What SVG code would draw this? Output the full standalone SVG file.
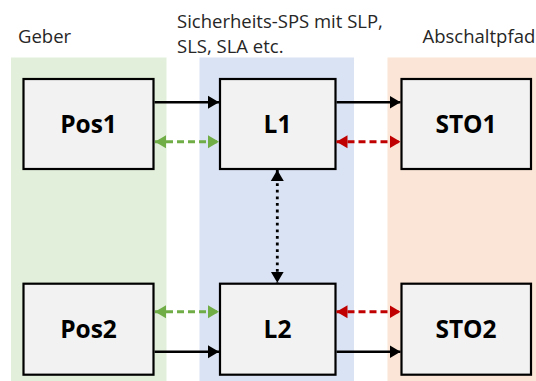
<svg xmlns="http://www.w3.org/2000/svg" width="536" height="381" viewBox="0 0 536 381">
  <style>
    .band-geber { fill: #E2EFDA; }
    .band-sps { fill: #DAE3F3; }
    .band-sto { fill: #FBE5D6; }
    .box { fill: #F2F2F2; stroke: #000000; stroke-width: 2.2; }
    .box-label { font-family: "Open Sans", "Liberation Sans", sans-serif; font-weight: bold; font-size: 24.5px; fill: #000000; text-anchor: middle; }
    .caption { font-family: "Open Sans", "Liberation Sans", sans-serif; font-size: 18.5px; fill: #262626; }
    .signal { stroke: #000000; stroke-width: 2.6; fill: none; }
    .diag-green { stroke: #70AD47; stroke-width: 3; stroke-dasharray: 7 4; fill: none; }
    .diag-red { stroke: #C00000; stroke-width: 3; stroke-dasharray: 7 4; fill: none; }
    .cross { stroke: #000000; stroke-width: 2.8; stroke-dasharray: 2.8 3.8; fill: none; }
  </style>
  <defs>
    <marker id="head-black" markerUnits="userSpaceOnUse" markerWidth="12" markerHeight="14" refX="11" refY="7" orient="auto-start-reverse">
      <path d="M0,0.5 L11,7 L0,13.5 Z" fill="#000000"/>
    </marker>
    <marker id="head-green" markerUnits="userSpaceOnUse" markerWidth="12" markerHeight="14" refX="11" refY="7" orient="auto-start-reverse">
      <path d="M0,0.5 L11,7 L0,13.5 Z" fill="#70AD47"/>
    </marker>
    <marker id="head-red" markerUnits="userSpaceOnUse" markerWidth="12" markerHeight="14" refX="11" refY="7" orient="auto-start-reverse">
      <path d="M0,0.5 L11,7 L0,13.5 Z" fill="#C00000"/>
    </marker>
  </defs>

  <rect width="536" height="381" fill="#FFFFFF"/>

  <!-- column backgrounds -->
  <g id="bands">
    <rect class="band-geber" x="11" y="57.5" width="155.5" height="323.5"/>
    <rect class="band-sps" x="199.5" y="57.5" width="154.5" height="323.5"/>
    <rect class="band-sto" x="387.5" y="57.5" width="148.5" height="323.5"/>
  </g>

  <!-- column captions -->
  <g id="captions">
    <text class="caption" x="18" y="43">Geber</text>
    <text class="caption" x="177" y="28">Sicherheits-SPS mit SLP,</text>
    <text class="caption" x="177" y="53">SLS, SLA etc.</text>
    <text class="caption" x="422.5" y="43">Abschaltpfad</text>
  </g>

  <g id="pos1">
    <rect class="box" x="23.5" y="79" width="130" height="90"/>
    <text class="box-label" x="88.5" y="132.5">Pos1</text>
  </g>
  <g id="l1">
    <rect class="box" x="220" y="79" width="115.5" height="90"/>
    <text class="box-label" x="277.5" y="132.5">L1</text>
  </g>
  <g id="sto1">
    <rect class="box" x="401.5" y="79" width="129.5" height="90"/>
    <text class="box-label" x="466" y="132.5">STO1</text>
  </g>
  <g id="pos2">
    <rect class="box" x="23.5" y="283.7" width="130" height="91"/>
    <text class="box-label" x="88.5" y="338">Pos2</text>
  </g>
  <g id="l2">
    <rect class="box" x="220" y="283.7" width="115.5" height="91"/>
    <text class="box-label" x="277.5" y="338">L2</text>
  </g>
  <g id="sto2">
    <rect class="box" x="401.5" y="283.7" width="129.5" height="91"/>
    <text class="box-label" x="466" y="338">STO2</text>
  </g>

  <!-- connectors -->
  <g id="connectors">
    <line class="signal" x1="154.5" y1="102.3" x2="219" y2="102.3" marker-end="url(#head-black)"/>
    <line class="signal" x1="336.5" y1="102.3" x2="400.5" y2="102.3" marker-end="url(#head-black)"/>
    <line class="diag-green" x1="155" y1="141.7" x2="219" y2="141.7" marker-start="url(#head-green)" marker-end="url(#head-green)"/>
    <line class="diag-red" x1="336.5" y1="141.7" x2="400.5" y2="141.7" marker-start="url(#head-red)" marker-end="url(#head-red)"/>
    <line class="cross" x1="277.3" y1="170" x2="277.3" y2="282.7" marker-start="url(#head-black)" marker-end="url(#head-black)"/>
    <line class="diag-green" x1="155" y1="311.7" x2="219" y2="311.7" marker-start="url(#head-green)" marker-end="url(#head-green)"/>
    <line class="diag-red" x1="336.5" y1="311.7" x2="400.5" y2="311.7" marker-start="url(#head-red)" marker-end="url(#head-red)"/>
    <line class="signal" x1="154.5" y1="351.7" x2="219" y2="351.7" marker-end="url(#head-black)"/>
    <line class="signal" x1="336.5" y1="351.7" x2="400.5" y2="351.7" marker-end="url(#head-black)"/>
  </g>
</svg>
